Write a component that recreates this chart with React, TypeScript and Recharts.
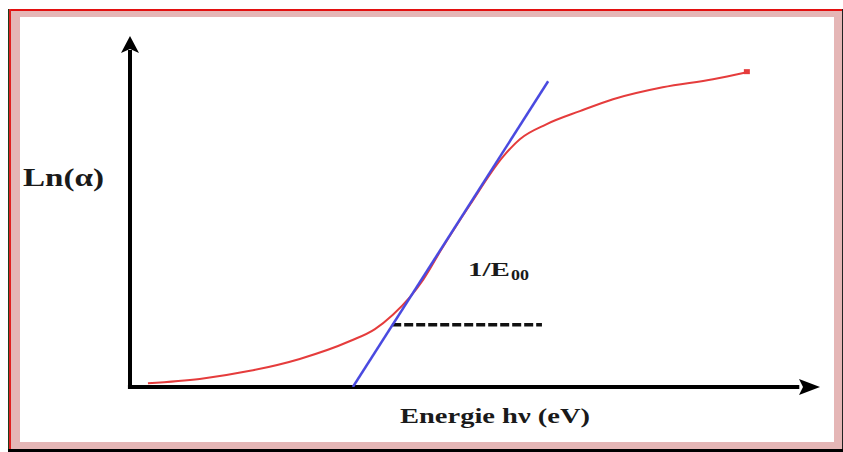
import React from 'react';
import { LineChart, Line, XAxis, YAxis, ReferenceLine, ReferenceDot } from 'recharts';

// Red curve: Ln(alpha) vs photon energy (arbitrary units)
const redX = [0.26, 1.01, 1.74, 2.46, 3.19, 3.55, 3.81, 4.06, 4.25, 4.51, 4.93, 5.41, 5.65, 6.04, 6.52, 7.0, 7.72, 8.45, 8.94];
const redY = [0.11, 0.23, 0.46, 0.8, 1.31, 1.65, 2.06, 2.57, 3.06, 3.91, 5.2, 6.57, 7.06, 7.49, 7.86, 8.2, 8.54, 8.77, 8.97];
// Blue tangent line
const blueX = [3.23, 6.06];
const blueY = [0, 8.71];
// Dashed horizontal
const dashX = [3.8, 5.97];
const dashY = [1.77, 1.77];

const labelY = 'Ln(α)';
const labelX = 'Energie hν (eV)';
const slopeMain = '1/E';
const slopeSub = '00';

const zip = (xs: number[], ys: number[]) => xs.map((x, i) => ({ x, y: ys[i] }));
const redData = zip(redX, redY);
const blueData = zip(blueX, blueY);
const dashData = zip(dashX, dashY);

const pink = '#e5b6b6';

const ArrowRight = (p: any) => {
  const { cx, cy } = p;
  return <polygon points={`${cx},${cy} ${cx - 21},${cy - 8} ${cx - 17},${cy} ${cx - 21},${cy + 8}`} fill="#000" />;
};
const ArrowUp = (p: any) => {
  const { cx, cy } = p;
  return <polygon points={`${cx},${cy} ${cx - 9},${cy + 17} ${cx},${cy + 13} ${cx + 9},${cy + 17}`} fill="#000" />;
};
const EndDot = (p: any) => {
  const { cx, cy } = p;
  return <rect x={cx - 3} y={cy - 3} width={6} height={5} fill="#e53c3c" />;
};

export default function App() {
  const last = redData[redData.length - 1];
  return (
    <div style={{ position: 'absolute', left: 0, top: 0, width: 843, height: 452, background: '#fff', overflow: 'hidden' }}>
      {/* frame */}
      <div style={{ position: 'absolute', left: 8, top: 9, width: 835, height: 443, background: pink }} />
      <div style={{ position: 'absolute', left: 8, top: 9, width: 835, height: 2, background: '#e31010' }} />
      <div style={{ position: 'absolute', left: 8, top: 9, width: 1, height: 443, background: '#1d3d1d' }} />
      <div style={{ position: 'absolute', left: 9, top: 9, width: 2, height: 440, background: '#e02020' }} />
      <div style={{ position: 'absolute', left: 842, top: 9, width: 1, height: 443, background: '#222' }} />
      <div style={{ position: 'absolute', left: 8, top: 449, width: 835, height: 3, background: '#000' }} />
      <div style={{ position: 'absolute', left: 20, top: 17, width: 814, height: 425, background: '#fff' }} />
      <div style={{ position: 'absolute', left: 0, top: 0 }}>
        <LineChart width={843} height={452} margin={{ left: 130, right: 23, top: 36, bottom: 65 }}>
          <XAxis type="number" dataKey="x" domain={[0, 10]} hide allowDataOverflow />
          <YAxis type="number" dataKey="y" domain={[0, 10]} hide allowDataOverflow />
          <ReferenceLine segment={[{ x: 0, y: -0.06 }, { x: 0, y: 9.6 }]} stroke="#000" strokeWidth={4} ifOverflow="visible" />
          <ReferenceLine segment={[{ x: -0.03, y: 0 }, { x: 9.7, y: 0 }]} stroke="#000" strokeWidth={4} ifOverflow="visible" />
          <ReferenceDot x={10} y={0} r={1} shape={ArrowRight} ifOverflow="visible" />
          <ReferenceDot x={0} y={10} r={1} shape={ArrowUp} ifOverflow="visible" />
          <Line data={dashData} dataKey="y" type="linear" stroke="#111" strokeWidth={3.5} strokeDasharray="9 3" dot={false} isAnimationActive={false} />
          <Line data={redData} dataKey="y" type="monotone" stroke="#e53c3c" strokeWidth={2} dot={false} isAnimationActive={false} />
          <Line data={blueData} dataKey="y" type="linear" stroke="#4a4ae0" strokeWidth={2.5} dot={false} isAnimationActive={false} />
          <ReferenceDot x={last.x} y={last.y} r={1} shape={EndDot} ifOverflow="visible" />
        </LineChart>
      </div>
      <svg width={843} height={452} style={{ position: 'absolute', left: 0, top: 0, pointerEvents: 'none' }}>
        <text x={23} y={186} fontFamily="Liberation Serif" fontWeight="bold" fontSize={25} fill="#1a1a1a" textLength={81} lengthAdjust="spacingAndGlyphs">{labelY}</text>
        <text x={400} y={423} fontFamily="Liberation Serif" fontWeight="bold" fontSize={21} fill="#1a1a1a" textLength={190} lengthAdjust="spacingAndGlyphs">{labelX}</text>
        <text x={468} y={276} fontFamily="Liberation Serif" fontWeight="bold" fontSize={19} fill="#1a1a1a" textLength={42} lengthAdjust="spacingAndGlyphs">{slopeMain}</text>
        <text x={511} y={280} fontFamily="Liberation Serif" fontWeight="bold" fontSize={15} fill="#1a1a1a" textLength={18} lengthAdjust="spacingAndGlyphs">{slopeSub}</text>
      </svg>
    </div>
  );
}
